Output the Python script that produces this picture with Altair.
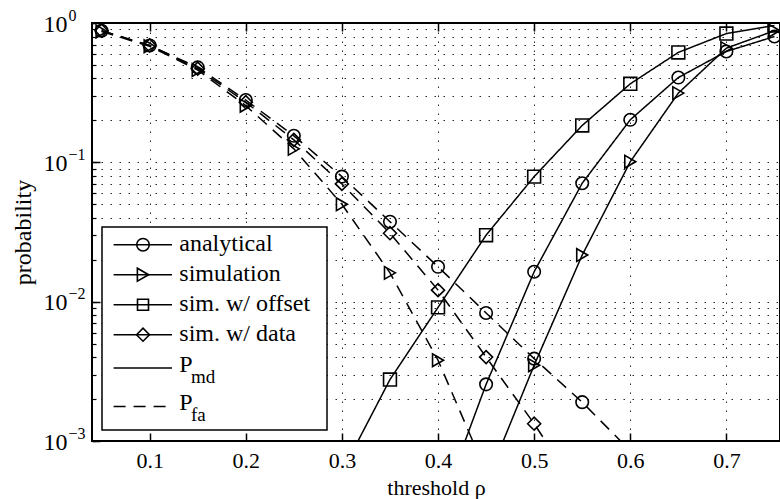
import altair as alt
import pandas as pd

# ---------------- data ----------------
series_names = ["analytical", "simulation", "sim. w/ offset", "sim. w/ data"]

# false-alarm probability P_fa (dashed)
x_fa_analytical = [0.05, 0.10, 0.15, 0.20, 0.25, 0.30, 0.35, 0.40, 0.45, 0.50, 0.55, 0.60]
p_fa_analytical = [0.88, 0.69, 0.48, 0.28, 0.155, 0.079, 0.0375, 0.0178, 0.0083, 0.0039, 0.0019, 0.00085]

x_fa_simulation = [0.05, 0.10, 0.15, 0.20, 0.25, 0.30, 0.35, 0.40, 0.45]
p_fa_simulation = [0.87, 0.68, 0.46, 0.255, 0.125, 0.050, 0.0161, 0.0038, 0.0006]

x_fa_data = [0.05, 0.10, 0.15, 0.20, 0.25, 0.30, 0.35, 0.40, 0.45, 0.50, 0.55]
p_fa_data = [0.88, 0.69, 0.47, 0.27, 0.145, 0.070, 0.031, 0.0121, 0.0040, 0.00133, 0.0004]

# missed-detection probability P_md (solid)
x_md_offset = [0.30, 0.35, 0.40, 0.45, 0.50, 0.55, 0.60, 0.65, 0.70, 0.75]
p_md_offset = [0.0006, 0.00276, 0.0091, 0.030, 0.079, 0.184, 0.366, 0.615, 0.84, 0.96]

x_md_analytical = [0.40, 0.45, 0.50, 0.55, 0.60, 0.65, 0.70, 0.75]
p_md_analytical = [0.0003, 0.00255, 0.0164, 0.0708, 0.202, 0.406, 0.625, 0.80]

x_md_simulation = [0.45, 0.50, 0.55, 0.60, 0.65, 0.70, 0.75]
p_md_simulation = [0.0005, 0.0035, 0.0216, 0.101, 0.314, 0.66, 0.88]

x_ticks = [0.1, 0.2, 0.3, 0.4, 0.5, 0.6, 0.7]
y_decades = [0.001, 0.01, 0.1, 1.0]
y_all = [m * 10.0 ** e for e in (-3, -2, -1) for m in range(1, 10)] + [1.0]

curves = [
    ("analytical", "fa", x_fa_analytical, p_fa_analytical),
    ("simulation", "fa", x_fa_simulation, p_fa_simulation),
    ("sim. w/ data", "fa", x_fa_data, p_fa_data),
    ("sim. w/ offset", "md", x_md_offset, p_md_offset),
    ("analytical", "md", x_md_analytical, p_md_analytical),
    ("simulation", "md", x_md_simulation, p_md_simulation),
]
rows = []
for s, k, xs, ps in curves:
    for xv, pv in zip(xs, ps):
        rows.append({"x": xv, "p": pv, "series": s, "kind": k, "curve": s + "-" + k})
df = pd.DataFrame(rows)

# ---------------- styling ----------------
FONT = "Liberation Serif"
W, H = 688, 418
xscale = alt.Scale(domain=[0.04, 0.04 + W / 961.2], nice=False, zero=False)
yscale = alt.Scale(type="log", domain=[0.001, 1], nice=False)
GRID = dict(gridColor="black", gridDash=[1.5, 7.5], gridWidth=1, gridOpacity=0.85)
shape_scale = alt.Scale(domain=series_names, range=["circle", "triangle-right", "square", "diamond"])
size_scale = alt.Scale(domain=series_names, range=[156, 169, 121, 169])
dash_scale = alt.Scale(domain=["md", "fa"], range=[[1, 0], [12, 8]])

lines = alt.Chart(df).mark_line(clip=True, color="black", strokeWidth=1.5).encode(
    x=alt.X("x:Q", scale=xscale, axis=alt.Axis(
        orient="bottom", values=x_ticks, grid=True, labels=False, ticks=True,
        tickSize=alt.ExprRef(expr="-8"), tickColor="black", tickWidth=1.5,
        domain=False, title=None, **GRID)),
    y=alt.Y("p:Q", scale=yscale, axis=alt.Axis(
        orient="left", values=y_all, grid=True, labels=False, ticks=True,
        tickSize=alt.ExprRef(expr="-4"), tickColor="black", tickWidth=1.2,
        domain=False, title=None, **GRID)),
    detail="curve:N",
    strokeDash=alt.StrokeDash("kind:N", scale=dash_scale, legend=None),
)

points = alt.Chart(df).mark_point(clip=True, filled=False, color="black", strokeWidth=1.6, opacity=1).encode(
    x=alt.X("x:Q", scale=xscale, axis=alt.Axis(
        orient="top", values=x_ticks, grid=False, labels=False, ticks=True,
        tickSize=alt.ExprRef(expr="-8"), tickColor="black", tickWidth=1.5,
        domain=False, title=None)),
    y=alt.Y("p:Q", scale=yscale, axis=alt.Axis(
        orient="left", values=y_decades, grid=False, labels=False, ticks=True,
        tickSize=alt.ExprRef(expr="-8"), tickColor="black", tickWidth=1.5,
        domain=False, title=None)),
    shape=alt.Shape("series:N", scale=shape_scale, legend=None),
    size=alt.Size("series:N", scale=size_scale, legend=None),
)

labels_main = alt.Chart(df).mark_point(opacity=0).encode(
    x=alt.X("x:Q", scale=xscale, axis=alt.Axis(
        orient="bottom", values=x_ticks, format=".1f", labels=True, ticks=False,
        grid=False, domain=False, labelFont=FONT, labelFontSize=22, labelColor="black",
        labelPadding=26, labelBaseline="alphabetic", labelFlush=False,
        title="threshold ρ", titleFont=FONT, titleFontSize=22, titleFontWeight="normal",
        titleColor="black", titleBaseline="alphabetic", titleY=53)),
    y=alt.Y("p:Q", scale=yscale, axis=alt.Axis(
        orient="left", values=y_decades, labelExpr="'10'", labelAlign="left",
        labelPadding=49, labelBaseline="alphabetic", labelOffset=8, ticks=False,
        grid=False, domain=False, labelFont=FONT, labelFontSize=24, labelColor="black",
        title="probability", titleFont=FONT, titleFontSize=24, titleFontWeight="normal",
        titleColor="black", titleAngle=270, titleX=-62, titleY=H / 2,
        titleBaseline="alphabetic", titleAlign="center")),
)

labels_exp = alt.Chart(df).mark_point(opacity=0).encode(
    x=alt.X("x:Q", scale=xscale, axis=None),
    y=alt.Y("p:Q", scale=yscale, axis=alt.Axis(
        orient="left", values=y_decades,
        labelExpr="datum.value > 0.5 ? '0' : datum.value > 0.05 ? '\u22121' : datum.value > 0.005 ? '\u22122' : '\u22123'",
        labelAlign="left", labelPadding=24, labelBaseline="alphabetic", labelOffset=-3,
        ticks=False, grid=False, domain=False, labelFont=FONT, labelFontSize=16,
        labelColor="black", title=None)),
)

# ---------------- legend (drawn in the plot area) ----------------
dummy = pd.DataFrame({"a": [0]})
legend_layers = [
    alt.Chart(dummy).mark_rect(fill="white", stroke="black", strokeWidth=1.5).encode(
        x=alt.value(10), x2=alt.value(235), y=alt.value(204), y2=alt.value(407))
]
legend_entries = [
    ("analytical", "circle", [1, 0]),
    ("simulation", "triangle-right", [1, 0]),
    ("sim. w/ offset", "square", [1, 0]),
    ("sim. w/ data", "diamond", [1, 0]),
]
for i, (lab, shp, dash) in enumerate(legend_entries):
    yl = 221.7 + 30 * i
    legend_layers.append(alt.Chart(dummy).mark_rule(color="black", strokeWidth=1.5, strokeDash=dash).encode(
        x=alt.value(21.6), x2=alt.value(80), y=alt.value(yl)))
    legend_layers.append(alt.Chart(dummy).mark_point(shape=shp, filled=False, color="black",
                                                     strokeWidth=1.6, opacity=1,
                                                     size=size_scale.range[series_names.index(lab)]).encode(
        x=alt.value(51), y=alt.value(yl)))
    legend_layers.append(alt.Chart(dummy).mark_text(align="left", baseline="alphabetic", font=FONT,
                                                    fontSize=24, color="black").encode(
        x=alt.value(87.3), y=alt.value(yl + 6.7), text=alt.value(lab)))

for yl, dash, sub in [(345, [1, 0], "md"), (383.4, [12, 8], "fa")]:
    legend_layers.append(alt.Chart(dummy).mark_rule(color="black", strokeWidth=1.5, strokeDash=dash).encode(
        x=alt.value(21.6), x2=alt.value(80), y=alt.value(yl)))
    legend_layers.append(alt.Chart(dummy).mark_text(align="left", baseline="alphabetic", font=FONT,
                                                    fontSize=24, color="black").encode(
        x=alt.value(87.3), y=alt.value(yl + 4), text=alt.value("P")))
    legend_layers.append(alt.Chart(dummy).mark_text(align="left", baseline="alphabetic", font=FONT,
                                                    fontSize=19, color="black").encode(
        x=alt.value(99), y=alt.value(yl + 15), text=alt.value(sub)))

chart = alt.layer(lines, points, labels_main, labels_exp, *legend_layers).resolve_axis(
    x="independent", y="independent"
).properties(
    width=W, height=H,
    padding={"left": 92, "top": 23, "right": 0, "bottom": 58},
    autosize=alt.AutoSizeParams(type="none"),
    background="white",
).configure_view(stroke="black", strokeWidth=2)

chart.save("out.html", embed_options={"renderer": "svg", "actions": False})
